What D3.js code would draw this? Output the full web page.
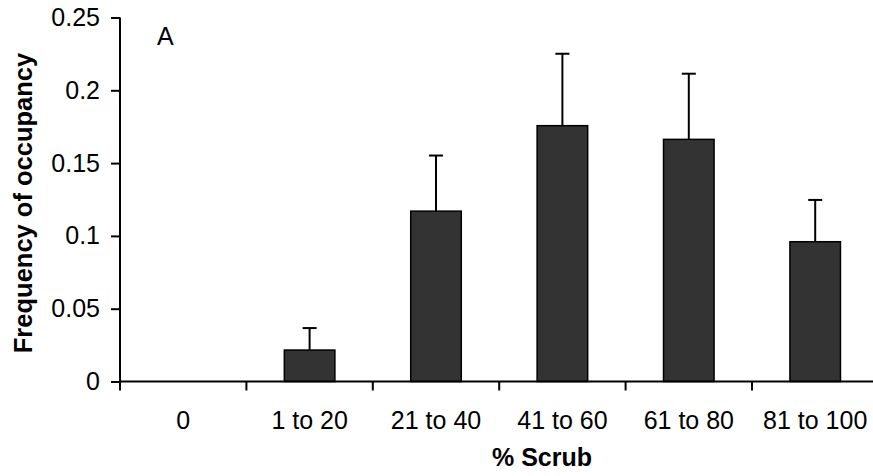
<!DOCTYPE html>
<html>
<head>
<meta charset="utf-8">
<script src="https://cdn.jsdelivr.net/npm/d3@7"></script>
<style>
  body { margin: 0; background: #fff; }
  svg { display: block; font-family: "Liberation Sans", Arial, sans-serif; }
</style>
</head>
<body>
<div id="chart"></div>
<script>
"use strict";

// chart data
var categories = ["0", "1 to 20", "21 to 40", "41 to 60", "61 to 80", "81 to 100"];
var occupancy = [0, 0.0216, 0.117, 0.1757, 0.1663, 0.096];
var errUpper = [0, 0.0151, 0.0382, 0.0494, 0.0451, 0.0287];
var yTicks = [0, 0.05, 0.1, 0.15, 0.2, 0.25];

var width = 873,
    height = 476;

// only categories with a value get a bar
let valFn = function(d) { return occupancy[categories.indexOf(d)]; }
let topFn = function(d) { var i = categories.indexOf(d); return occupancy[i] + errUpper[i]; }
var shown = categories.filter(function(d) { return valFn(d) > 0; });

var svg = d3.select('#chart').append('svg')
  .attr('width', width)
  .attr('height', height);

var x = d3.scaleBand()
  .domain(categories)
  .range([120, 878.4])
  .paddingInner(0);

var y = d3.scaleLinear()
  .domain([0, 0.25])
  .range([381.5, 17.5]);

var barW = x.bandwidth() * 0.4;
var mid = function(d) { return x(d) + x.bandwidth() / 2; };

// bars
svg.selectAll('rect.bar').data(shown)
  .enter().append('rect')
    .attr('class', 'bar')
    .attr('x', function(d) { return mid(d) - barW / 2; })
    .attr('y', function(d) { return y(valFn(d)); })
    .attr('width', barW)
    .attr('height', function(d) { return y(0) - y(valFn(d)); })
    .style('fill', '#333333')
    .style('stroke', '#000')
    .style('stroke-width', 1.5);

// error bars (upper only)
var errG = svg.append('g').selectAll('g').data(shown)
  .enter().append('g');

errG.append('line')
  .attr('x1', mid)
  .attr('x2', mid)
  .attr('y1', function(d) { return y(valFn(d)); })
  .attr('y2', function(d) { return y(topFn(d)); })
  .style('stroke', '#000')
  .style('stroke-width', 2);

errG.append('line')
  .attr('x1', function(d) { return mid(d) - 7; })
  .attr('x2', function(d) { return mid(d) + 7; })
  .attr('y1', function(d) { return y(topFn(d)); })
  .attr('y2', function(d) { return y(topFn(d)); })
  .style('stroke', '#000')
  .style('stroke-width', 2);

// y axis
var yAxis = svg.append('g')
  .attr('transform', 'translate(120,0)')
  .call(d3.axisLeft(y).tickValues(yTicks).tickSize(9).tickSizeOuter(0).tickPadding(11)
    .tickFormat(function(d) { return d3.format('~g')(d); }));
yAxis.selectAll('path, line').style('stroke', '#000').style('stroke-width', 2);
yAxis.select('.domain').attr('d', 'M0,' + y(0.25) + 'V' + y(0));
yAxis.selectAll('text')
  .style('font-family', '"Liberation Sans", Arial, sans-serif')
  .style('font-size', '25px')
  .style('fill', '#000');

// x axis
var xAxis = svg.append('g')
  .attr('transform', 'translate(0,' + y(0) + ')')
  .call(d3.axisBottom(x).tickSize(0).tickSizeOuter(0).tickPadding(30));
xAxis.select('.domain').attr('d', 'M120,0H' + width).style('stroke', '#000').style('stroke-width', 2);
xAxis.selectAll('text')
  .style('font-family', '"Liberation Sans", Arial, sans-serif')
  .style('font-size', '25px')
  .style('fill', '#000');

// category boundary ticks
xAxis.selectAll('line.bound').data(categories)
  .enter().append('line')
    .attr('class', 'bound')
    .attr('x1', function(d) { return x(d); })
    .attr('x2', function(d) { return x(d); })
    .attr('y1', 0)
    .attr('y2', 9)
    .style('stroke', '#000')
    .style('stroke-width', 2);

// titles
svg.append('text')
  .attr('x', 542)
  .attr('y', 466)
  .attr('text-anchor', 'middle')
  .style('font-size', '25px')
  .style('font-weight', 'bold')
  .text('% Scrub');

svg.append('text')
  .attr('transform', 'translate(32,203) rotate(-90)')
  .attr('text-anchor', 'middle')
  .style('font-size', '25.5px')
  .style('font-weight', 'bold')
  .text('Frequency of occupancy');

svg.append('text')
  .attr('x', 157)
  .attr('y', 45)
  .style('font-size', '25px')
  .text('A');
</script>
</body>
</html>
